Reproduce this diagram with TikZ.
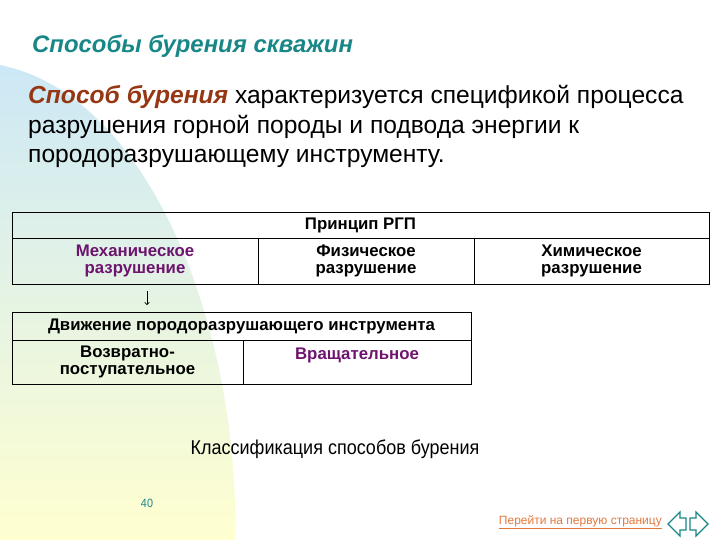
\documentclass[tikz,border=0pt]{standalone}
\usepackage{fontspec}
\setmainfont{Liberation Sans}
\newfontfamily\narrowfont[FakeStretch=0.9]{Liberation Sans}
\usetikzlibrary{arrows.meta}

\definecolor{titleteal}{RGB}{25,135,135}
\definecolor{termbrown}{RGB}{150,55,20}
\definecolor{cellpurple}{RGB}{110,20,110}
\definecolor{linkorange}{RGB}{225,120,60}
\definecolor{bgblue}{RGB}{204,232,246}
\definecolor{bggreen}{RGB}{232,245,222}
\definecolor{bgyellow}{RGB}{255,255,208}

\newcommand{\bodyfont}{\fontsize{24.6}{29}\selectfont}

\begin{document}
\begin{tikzpicture}[x=1pt, y=-1pt,
    cell/.style={draw, line width=0.8pt, inner sep=0pt, align=center,
                 font=\fontsize{16.8}{17.5}\selectfont\bfseries},
    textline/.style={anchor=base west, inner sep=0pt, font=\bodyfont},
    navarrow/.style={draw=titleteal, fill=white, line width=1.2pt}]
    \useasboundingbox (0,0) rectangle (720,540);
    % background
    \shade [top color=bgblue, middle color=bggreen, bottom color=bgyellow]
        (0,65) .. controls (150,95) and (240,330) .. (235,540) -- (0,540) -- cycle;

    % heading and definition
    \node [anchor=base west, inner sep=0pt, text=titleteal,
           font=\fontsize{23.9}{28}\selectfont\bfseries\itshape] (title) at (32,53) {Способы бурения скважин};
    \node [textline] (line1) at (28,104) {\textcolor{termbrown}{\bfseries\itshape Способ бурения} характеризуется спецификой процесса};
    \node [textline] (line2) at (28,133.5) {разрушения горной породы и подвода энергии к};
    \node [textline] (line3) at (28,163) {породоразрушающему инструменту.};

    % principle table
    \node [cell, minimum width=697, minimum height=26] (rgp) at (360.5,225) {Принцип РГП};
    \node [cell, minimum width=246, minimum height=46, text=cellpurple] (mech) at (135,261) {Механическое\\разрушение};
    \node [cell, minimum width=216, minimum height=46] (phys) at (366,261) {Физическое\\разрушение};
    \node [cell, minimum width=235, minimum height=46] (chem) at (591.5,261) {Химическое\\разрушение};

    \coordinate (arrtop) at (147,291);
    \coordinate (arrbot) at (147,305);
    \draw [-{To[length=3pt,width=5pt]}, line width=0.7pt] (arrtop) -- (arrbot);

    % motion table
    \node [cell, minimum width=459, minimum height=28] (move) at (241.5,326) {Движение породоразрушающего инструмента};
    \node [cell, minimum width=231, minimum height=44] (recip) at (127.5,362) {Возвратно-\\поступательное};
    \node [cell, minimum width=228, minimum height=44, text=cellpurple] (rot) at (357,362) {Вращательное\\\mbox{}};

    \node [inner sep=0pt, font=\narrowfont\fontsize{20}{22}\selectfont] (caption) at (335,449) {Классификация способов бурения};

    % footer
    \node [text=titleteal, inner sep=0pt, font=\narrowfont\fontsize{12}{14}\selectfont] (pagenum) at (147,503) {40};
    \node [anchor=base east, inner sep=0pt, text=linkorange, font=\fontsize{12}{14}\selectfont] (link) at (662,524) {\underline{Перейти на первую страницу}};
    \filldraw [navarrow] (668,524) -- (680,512) -- (680,518) -- (686,518) -- (686,530) -- (680,530) -- (680,536) -- cycle;
    \filldraw [navarrow] (708,524) -- (696,512) -- (696,518) -- (690,518) -- (690,530) -- (696,530) -- (696,536) -- cycle;
\end{tikzpicture}
\end{document}
